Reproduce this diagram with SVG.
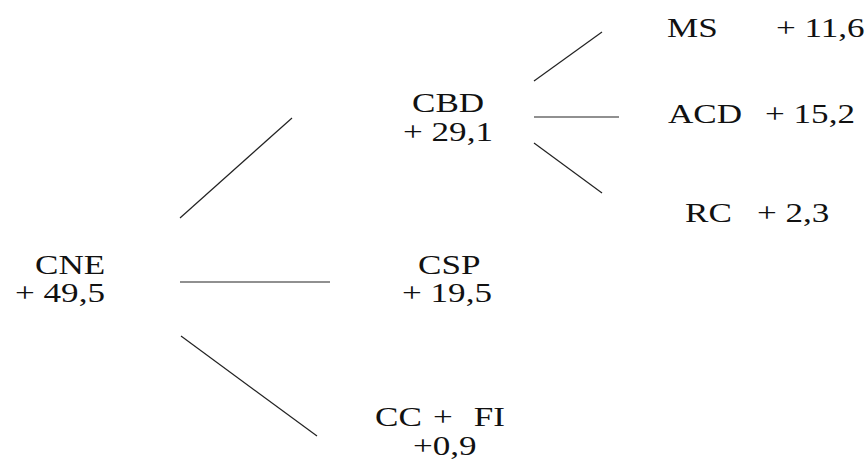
<svg xmlns="http://www.w3.org/2000/svg" width="868" height="463" viewBox="0 0 868 463">
<style>
.t text{font-family:"Times New Roman","Liberation Serif",Times,Tinos,"Noto Serif","DejaVu Serif",FreeSerif,serif;font-size:27px;fill:#111}
.c line{stroke:#222;stroke-width:1.2}
</style>
<rect width="868" height="463" fill="#fff"/>
<g id="connectors" class="c">
<line x1="180" y1="218" x2="292" y2="118"/>
<line x1="180" y1="282" x2="330" y2="282"/>
<line x1="181" y1="336" x2="317" y2="436"/>
<line x1="534" y1="81" x2="602" y2="32"/>
<line x1="534" y1="117" x2="619" y2="117"/>
<line x1="534" y1="143" x2="602" y2="193"/>
</g>
<g id="CNE" class="t">
<text transform="translate(35 274) scale(1.3 1)">CNE</text>
<text transform="translate(15 302) scale(1.3 1)">+ 49,5</text>
</g>
<g id="CBD" class="t">
<text transform="translate(412 112) scale(1.3 1)">CBD</text>
<text transform="translate(403 141) scale(1.3 1)">+ 29,1</text>
</g>
<g id="CSP" class="t">
<text transform="translate(418 274) scale(1.3 1)">CSP</text>
<text transform="translate(402 302) scale(1.3 1)">+ 19,5</text>
</g>
<g id="CCFI" class="t">
<text transform="translate(375 426) scale(1.3 1)">CC<tspan x="44.6">+</tspan><tspan x="76">FI</tspan></text>
<text transform="translate(413 455) scale(1.3 1)">+0,9</text>
</g>
<g id="MS" class="t">
<text transform="translate(667 37) scale(1.3 1)">MS</text>
<text transform="translate(776 37) scale(1.3 1)">+ 11,6</text>
</g>
<g id="ACD" class="t">
<text transform="translate(668 123) scale(1.3 1)">ACD</text>
<text transform="translate(765 123) scale(1.3 1)">+ 15,2</text>
</g>
<g id="RC" class="t">
<text transform="translate(685 222) scale(1.3 1)">RC</text>
<text transform="translate(757 222) scale(1.3 1)">+ 2,3</text>
</g>
</svg>
